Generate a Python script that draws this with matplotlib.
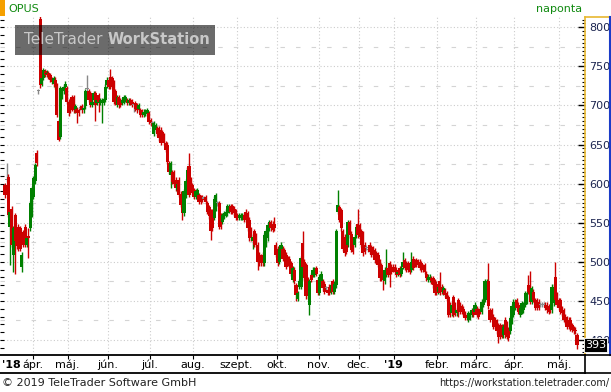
import numpy as np
import matplotlib
matplotlib.use("Agg")
import matplotlib.pyplot as plt
from matplotlib.ticker import MultipleLocator
from matplotlib.patches import Rectangle
from matplotlib.lines import Line2D

W, H = 611, 392

# daily candles, OPUS, mid-March 2018 .. mid-May 2019
opens = [598, 605, 609, 545, 568, 509, 560, 526, 545, 543, 494, 538, 545, 522, 533, 543, 560,
         583, 603, 639, 718, 811, 728, 735, 744, 740, 741, 739, 733, 727, 733, 726, 680, 660, 711, 718, 724, 722,
         705, 707, 711, 711, 694, 695, 694, 697, 699, 694, 699, 721, 718, 716, 701, 707, 716, 703, 713, 703, 703, 704, 707, 726,
         733, 737, 735, 730, 718, 701, 711, 707, 703, 705, 707, 707, 703, 707, 705, 700, 703, 700, 696, 694, 692, 688, 689, 690, 690,
         681, 677, 664, 669, 671, 671, 669, 666, 662, 652, 650, 626, 611, 615, 615, 605, 592, 605, 587, 573, 562, 585, 603, 622, 605, 598,
         592, 583, 583, 585, 583, 583, 581, 583, 575, 570, 564, 564, 556, 568, 575, 575, 560, 551, 558, 560, 562, 566, 571, 571, 568, 564,
         560, 556, 556, 556, 560, 564, 562, 554, 541, 526, 539, 534, 522, 509, 507, 509, 498, 522, 530, 543, 551, 549, 549,
         522, 517, 500, 509, 517, 515, 509, 504, 504, 498, 477, 490, 470, 453, 468, 468, 524, 500, 496, 477, 445, 483, 483, 483, 492, 477,
         460, 475, 475, 472, 466, 464, 468, 462, 475, 462, 470, 564, 570, 566, 539, 532, 522, 522, 551, 536, 526, 522, 534, 549,
         547, 539, 536, 522, 518, 515, 522, 519, 517, 515, 511, 509, 500, 496, 485, 475, 483, 492, 498, 494, 494,
         494, 490, 485, 492, 485, 494, 502, 498, 498, 496, 490, 504, 500, 502, 500, 500, 498, 494, 496, 485, 477, 477, 479, 479, 475, 472,
         462, 475, 468, 460, 464, 460, 455, 445, 434, 455, 445, 434, 451, 445, 443, 440, 434, 432, 426, 428, 432, 438, 436,
         440, 438, 440, 436, 445, 451, 458, 475, 438, 438, 430, 426, 424, 419, 419, 417, 406, 426, 421, 413, 411, 424, 432,
         441, 451, 445, 432, 436, 438, 445, 449, 470, 464, 449, 462, 451, 451, 449, 445, 445, 445, 445, 445, 443, 443, 438, 447, 481, 458,
         451, 451, 441, 438, 430, 428, 426, 426, 419, 415, 413, 406]
closes = [585, 605, 560, 564, 522, 543, 526, 520, 517, 517, 509, 522, 522, 530, 531, 575, 594,
          607, 624, 626, 718, 726, 735, 745, 739, 742, 737, 733, 730, 735, 724, 688, 656, 722, 721, 724, 728, 705,
          690, 694, 696, 694, 699, 690, 690, 697, 694, 697, 718, 721, 707, 701, 705, 716, 701, 707, 705, 707, 707, 708, 724, 733,
          724, 724, 726, 705, 703, 711, 700, 701, 707, 711, 711, 703, 707, 703, 701, 700, 696, 694, 700, 688, 688, 692, 692, 694, 679,
          677, 677, 677, 675, 664, 658, 652, 656, 652, 643, 628, 615, 626, 602, 600, 594, 600, 586, 573, 562, 590, 603, 618, 586, 598, 588,
          583, 590, 592, 577, 577, 579, 581, 577, 564, 558, 539, 543, 581, 585, 575, 545, 545, 560, 562, 564, 571, 571, 564, 564, 562, 556,
          556, 560, 560, 560, 554, 554, 543, 530, 530, 532, 522, 522, 500, 498, 498, 498, 534, 539, 547, 551, 543, 541, 543,
          509, 498, 517, 522, 504, 509, 494, 498, 496, 485, 492, 475, 458, 460, 475, 505, 494, 479, 456, 456, 475, 477, 490, 490, 485, 460,
          481, 485, 466, 462, 466, 460, 460, 470, 462, 472, 539, 573, 554, 543, 517, 511, 513, 551, 534, 515, 513, 532, 545, 534,
          532, 522, 511, 513, 518, 515, 513, 509, 509, 502, 500, 496, 479, 479, 477, 490, 490, 483, 487, 487, 490,
          487, 483, 487, 483, 492, 500, 492, 490, 490, 487, 500, 492, 496, 496, 496, 492, 490, 490, 487, 479, 481, 481, 475, 470, 460, 460,
          468, 460, 462, 466, 458, 453, 432, 432, 445, 432, 434, 438, 436, 436, 436, 434, 428, 428, 434, 434, 438, 432, 445,
          432, 430, 436, 449, 451, 475, 475, 443, 426, 430, 417, 417, 411, 404, 404, 406, 417, 406, 404, 402, 428, 443, 449,
          449, 441, 436, 441, 447, 445, 460, 460, 462, 449, 466, 451, 441, 441, 441, 445, 445, 445, 441, 438, 436, 438, 468, 468, 451, 445,
          441, 436, 434, 426, 424, 417, 417, 415, 413, 411, 411, 393]

# long shadows (candle index: price)
highs_long = {1: 626, 14: 543, 19: 643, 21: 815, 49: 739, 63: 747, 110: 639, 161: 557, 178: 540,
              199: 592, 211: 568, 228: 517, 238: 513, 243: 513, 260: 487, 289: 498, 313: 483,
              314: 488, 329: 500}
lows_long = {3: 496, 5: 487, 6: 485, 10: 487, 14: 505, 32: 654, 43: 677, 54: 680, 56: 692, 58: 677,
             77: 692, 99: 594, 106: 553, 123: 528, 148: 517, 151: 490, 174: 450, 182: 432, 226: 464,
             230: 468, 271: 430, 295: 396, 342: 388}

# first candle of each month
month_first = [17, 38, 62, 87, 113, 139, 163, 188, 212, 233, 259, 282, 305, 332]
month_names = ["ápr.", "máj.", "jún.", "júl.", "aug.", "szept.", "okt.", "nov.", "dec.", "'19",
               "febr.", "márc.", "ápr.", "máj."]
last_price = 393

RED = "#cc0000"
GREEN = "#008000"
GRAY = "#888888"


def fx(px):
    return px / W


def fy(py):
    return 1 - py / H


fig = plt.figure(figsize=(W / 100, H / 100), dpi=100)

ax = fig.add_axes([0, fy(355), fx(585), (355 - 17) / H])
ax.set_xlim(-3, 346.8)
ax.set_ylim(380.8, 813.2)

# grid
for v in range(400, 801, 50):
    ax.axhline(v, color="#cccccc", lw=0.8, ls=(0, (1, 2)), zorder=0)
for v in range(425, 801, 50):
    ax.axhline(v, color="#d4d4d4", lw=0.8, ls=(0, (4, 10)), zorder=0)
for m in month_first:
    ax.axvline(m - 0.5, color="#cccccc", lw=0.8, ls=(0, (1, 2)), zorder=0)

# candles
o = np.array(opens, dtype=float)
c = np.array(closes, dtype=float)
idx = np.arange(len(o))
top = np.maximum(o, c)
bot = np.minimum(o, c)
hi = top + 3
lo = bot - 3
for k, v in highs_long.items():
    hi[k] = v
for k, v in lows_long.items():
    lo[k] = v
cols = np.where(c > o, GREEN, np.where(c < o, RED, GRAY))
ax.vlines(idx, lo, hi, colors=cols, lw=1.0, zorder=2)
ax.bar(idx, np.maximum(top - bot, 1.5), bottom=bot, width=1.85, color=cols, linewidth=0, zorder=3)

# axes styling
for s in ["top", "left", "bottom"]:
    ax.spines[s].set_visible(False)
ax.spines["right"].set_color("#e8b830")
ax.spines["right"].set_linewidth(1.2)
ax.set_xticks([])
ax.yaxis.tick_right()
ax.set_yticks(range(400, 801, 50))
ax.yaxis.set_minor_locator(MultipleLocator(5))
ax.tick_params(axis="y", which="major", direction="in", length=5, width=1, color="black",
               labelsize=8, pad=3, labelcolor="#1c2550")
ax.tick_params(axis="y", which="minor", direction="in", length=2.5, width=0.8, color="black")

sec = ax.secondary_yaxis("left")
sec.set_yticks(np.arange(390, 811, 10))
sec.tick_params(direction="in", length=3, width=0.8, labelleft=False)
sec.spines["left"].set_visible(False)

# right price panel borders
fig.add_artist(Line2D([fx(585), fx(609)], [fy(17), fy(17)], color="#e8b830", lw=1.2))
fig.add_artist(Line2D([fx(609.5), fx(609.5)], [fy(17), fy(355)], color="#1a3cc8", lw=1.5))

# date axis row
dax = fig.add_axes([0, fy(373), fx(585), 18 / H])
dax.set_xlim(ax.get_xlim())
dax.set_ylim(0, 1)
dax.set_yticks([])
dax.set_xticks([m - 0.5 for m in month_first])
dax.tick_params(axis="x", top=True, bottom=False, direction="in", length=3, width=0.8,
                labeltop=False, labelbottom=False)
for s in ["left", "right"]:
    dax.spines[s].set_visible(False)
for s in ["top", "bottom"]:
    dax.spines[s].set_linewidth(1.3)
dax.text(0.004, 0.45, "'18", transform=dax.transAxes, ha="left", va="center",
         fontsize=8, fontweight="bold")
for m, name in zip(month_first, month_names):
    bold = name.startswith("'")
    dax.text(m - 0.5, 0.45, name, ha="center", va="center", fontsize=8,
             fontweight="bold" if bold else "normal")

fig.add_artist(Line2D([fx(585), fx(585)], [fy(355), fy(373)], color="black", lw=1.2))
fig.add_artist(Line2D([fx(585), fx(611)], [fy(373), fy(373)], color="black", lw=1.2))
fig.add_artist(Line2D([fx(585), fx(611)], [fy(355), fy(355)], color="black", lw=1.2))

# header
fig.add_artist(Rectangle((0, fy(16)), fx(5), 16 / H, color="#f5a000", lw=0))
fig.text(fx(8), fy(9), "OPUS", color="#108a10", fontsize=8, va="center", ha="left")
fig.text(fx(582), fy(9), "naponta", color="#108a10", fontsize=8, va="center", ha="right")

# watermark
fig.add_artist(Rectangle((fx(15), fy(55)), fx(200), 30 / H, color="black", alpha=0.58,
                         lw=0, zorder=5))
fig.text(fx(24), fy(40), "TeleTrader", color="#c8c8c8", fontsize=11, va="center",
         ha="left", zorder=6)
fig.text(fx(108), fy(40), "WorkStation", color="#c8c8c8", fontsize=10.5, fontweight="bold",
         va="center", ha="left", zorder=6)

# last price tag
fig.add_artist(Rectangle((fx(584), fy(352)), fx(23), 14 / H, facecolor="black",
                         edgecolor="white", lw=0.6, zorder=5))
fig.text(fx(595.5), fy(345), str(last_price), color="white", fontsize=8, va="center",
         ha="center", zorder=6)

# footer
fig.text(fx(2), fy(383), "© 2019 TeleTrader Software GmbH", fontsize=8, va="center",
         ha="left", color="#222222")
fig.text(fx(609), fy(383), "https://workstation.teletrader.com/", fontsize=7, va="center",
         ha="right", color="#222222")

fig.savefig("out.png", dpi=100)
